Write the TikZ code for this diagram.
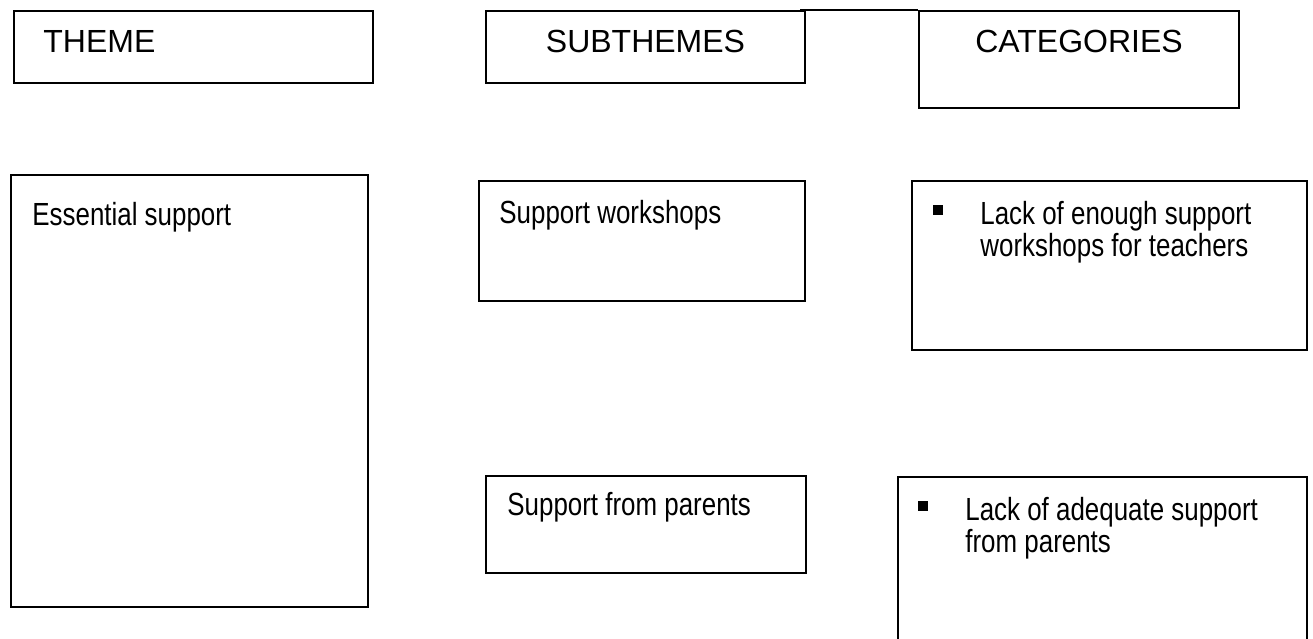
\documentclass[tikz,border=0pt]{standalone}
\usepackage{fontspec}
\setmainfont{Liberation Sans}
\newfontfamily\narrowfont{Liberation Sans}[FakeStretch=0.81]
\def\px{0.5pt}
\tikzset{
  frame/.style={draw, line width=1pt, inner sep=0pt, anchor=north west},
  headtext/.style={inner sep=0pt, anchor=base, font=\fontsize{16}{16}\selectfont},
  bodytext/.style={inner sep=0pt, anchor=base west, align=left, font=\narrowfont\fontsize{16}{16}\selectfont},
  listtext/.style={bodytext, text width=320*\px, execute at begin node={\spaceskip=0pt\xspaceskip=0pt\relax}},
  bulletmark/.style={fill, inner sep=0pt, minimum size=5pt}
}

\begin{document}
\begin{tikzpicture}[x=0.5pt, y=-0.5pt]
\clip (0,0) rectangle (1313,638);
% Header boxes
\node[frame, minimum width=359*\px, minimum height=72*\px] (theme) at (13,10) {};
\node[frame, minimum width=319*\px, minimum height=72*\px] (subth) at (485,10) {};
\node[frame, minimum width=320*\px, minimum height=97*\px] (cat) at (918,10) {};
\node[headtext, anchor=base west] (themetxt) at ([shift={(30,42)}]theme.north west) {THEME};
\node[headtext] (subthtxt) at ([shift={(0,42)}]subth.north) {SUBTHEMES};
\node[headtext] (cattxt) at ([shift={(0,42)}]cat.north) {CATEGORIES};
\draw[line width=1pt] ([xshift=-3pt]subth.north east) -- (cat.north west);
% Theme
\node[frame, minimum width=357*\px, minimum height=432*\px] (ess) at (10,174) {};
\node[bodytext] (esstxt) at ([shift={(22,51)}]ess.north west) {Essential support};
% Subthemes
\node[frame, minimum width=326*\px, minimum height=120*\px] (subws) at (478,180) {};
\node[bodytext] (subwstxt) at ([shift={(21,43)}]subws.north west) {Support workshops};
\node[frame, minimum width=320*\px, minimum height=97*\px] (subpar) at (485,475) {};
\node[bodytext] (subpartxt) at ([shift={(22,40)}]subpar.north west) {Support from parents};
% Categories
\node[frame, minimum width=395*\px, minimum height=169*\px] (catws) at (911,180) {};
\node[bulletmark] (catwsdot) at ([shift={(27,30)}]catws.north west) {};
\node[listtext] (catwstxt) at ([shift={(69,44)}]catws.north west) {Lack of enough support\\workshops for teachers};
\node[frame, minimum width=409*\px, minimum height=220*\px] (catpar) at (897,476) {};
\node[bulletmark] (catpardot) at ([shift={(26,30)}]catpar.north west) {};
\node[listtext] (catpartxt) at ([shift={(68,44)}]catpar.north west) {Lack of adequate support\\from parents};
\end{tikzpicture}
\end{document}
